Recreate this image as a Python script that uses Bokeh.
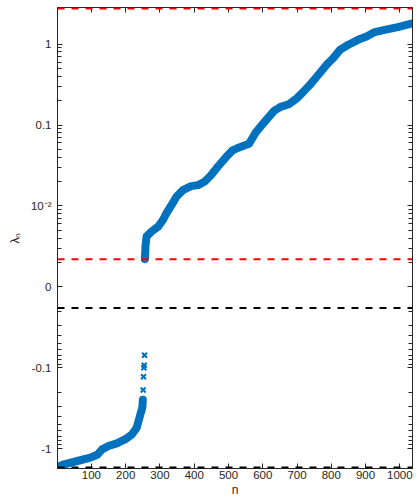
import math
from bokeh.plotting import figure
from bokeh.models import Range1d, FixedTicker, LinearAxis, Span, CustomLabelingPolicy
from bokeh.embed import file_html
from bokeh.resources import INLINE

# ---- data (eigenvalue index n, eigenvalue lambda_n) ----
n_neg = [1, 20, 59, 97, 117, 131, 150, 174, 198, 218, 232, 240, 244, 247, 249, 250,
         251, 252, 253, 254, 255]
lam_neg = [-1.68, -1.56, -1.42, -1.29, -1.19, -1.02, -0.927, -0.861, -0.769, -0.668,
           -0.553, -0.417, -0.36, -0.33, -0.30, -0.249,
           -0.188, -0.129, -0.0998, -0.093, -0.070]
n_pos = [256, 258, 261, 276, 295, 309, 319, 334, 348, 367, 391, 411, 430, 449, 468,
         493, 512, 531, 560, 580, 604, 633, 652, 676, 700, 719, 739, 763, 787, 806,
         826, 850, 878, 903, 927, 956, 994, 1037]
lam_pos = [0.0022, 0.0033, 0.0042, 0.00485, 0.00558, 0.00675, 0.00815, 0.0103, 0.0130,
           0.0157, 0.0176, 0.0181, 0.0199, 0.0240, 0.0303, 0.0402, 0.0486, 0.0529,
           0.0587, 0.0815, 0.108, 0.150, 0.168, 0.181, 0.215, 0.259, 0.319, 0.422,
           0.560, 0.675, 0.855, 0.984, 1.13, 1.24, 1.41, 1.50, 1.62, 1.81]
red_levels = [2.76, 0.0022]
black_levels = [-0.0182, -1.71]
x_ticks = [100, 200, 300, 400, 500, 600, 700, 800, 900, 1000]
y_tick_values = [-1, -0.1, 0, 0.01, 0.1, 1]
y_tick_labels = ["-1", "-0.1", "0", "10\u207b\u00b2", "0.1", "1"]
dense_last_neg = 250


def sym(v):
    if v > 0:
        return math.log10(v) + 3
    if v < 0:
        return -(math.log10(-v) + 2)
    return 0.0


BLUE = "#0072BD"
AX = "#262626"
FONT = "Liberation Sans"
PAD = 0.012  # keeps the boundary dashed lines fully visible inside the frame

p = figure(width=416, height=499, output_backend="svg", toolbar_location=None,
           x_range=Range1d(1, 1037),
           y_range=Range1d(sym(black_levels[1]) - PAD, sym(red_levels[0]) + PAD),
           min_border_top=7, min_border_right=1, min_border_left=57, min_border_bottom=29)
p.grid.visible = False
p.outline_line_color = AX
p.background_fill_color = "white"

y_major = [sym(v) for v in y_tick_values]
y_minor = ([d + math.log10(k) for d in (0, 1, 2) for k in range(2, 10)] +
           [-math.log10(k) for k in range(2, 10)] +
           [-1 - math.log10(k) for k in range(2, 10)])
y_ticker = FixedTicker(ticks=y_major, minor_ticks=y_minor)
x_ticker = FixedTicker(ticks=x_ticks, minor_ticks=[])
overrides = {sym(v): lab for v, lab in zip(y_tick_values, y_tick_labels)}

no_labels = CustomLabelingPolicy(code="""
    for (const i of indices) indices.unset(i)
    return indices
""")


def style(ax, labels=True):
    ax.axis_line_color = AX
    ax.major_tick_line_color = AX
    ax.minor_tick_line_color = AX
    ax.major_tick_in = 5
    ax.major_tick_out = 0
    ax.minor_tick_in = 4
    ax.minor_tick_out = 0
    ax.major_label_text_font = FONT
    ax.major_label_text_color = AX
    ax.axis_label_text_font = FONT
    ax.axis_label_text_color = AX
    ax.axis_label_text_font_style = "normal"
    if labels:
        ax.major_label_text_font_size = "11.5px"
        ax.axis_label_text_font_size = "12px"
    else:
        ax.major_label_text_font_size = "1px"
        ax.major_label_standoff = 0
        ax.major_label_policy = no_labels


xa = p.xaxis[0]
xa.ticker = x_ticker
style(xa)
xa.axis_label = "n"
xa.major_label_standoff = 2
xa.axis_label_standoff = 1

ya = p.yaxis[0]
ya.ticker = y_ticker
ya.major_label_overrides = overrides
style(ya)
ya.axis_label = "\u03bb\u2099"
ya.major_label_standoff = 6
ya.axis_label_standoff = 6

top = LinearAxis(ticker=x_ticker)
style(top, labels=False)
p.add_layout(top, "above")
right = LinearAxis(ticker=y_ticker)
style(right, labels=False)
p.add_layout(right, "right")

# dashed reference levels
for v in red_levels:
    p.add_layout(Span(location=sym(v), dimension="width", line_color="#FF0000",
                      line_width=2, line_dash="7 7"))
for v in black_levels:
    p.add_layout(Span(location=sym(v), dimension="width", line_color="#000000",
                      line_width=2, line_dash="7 7"))

yn = [sym(v) for v in lam_neg]
yp = [sym(v) for v in lam_pos]
dense_n = [n for n in n_neg if n <= dense_last_neg]
dense_y = [y for n, y in zip(n_neg, yn) if n <= dense_last_neg]

p.line(dense_n, dense_y, line_color=BLUE, line_width=8, line_join="round", line_cap="round")
p.line(n_pos, yp, line_color=BLUE, line_width=8, line_join="round", line_cap="round")
p.scatter(n_neg, yn, marker="x", size=7, line_width=2, line_color=BLUE)
p.scatter(n_pos, yp, marker="x", size=7, line_width=2, line_color=BLUE)

open("out.html", "w").write(file_html(p, INLINE))
